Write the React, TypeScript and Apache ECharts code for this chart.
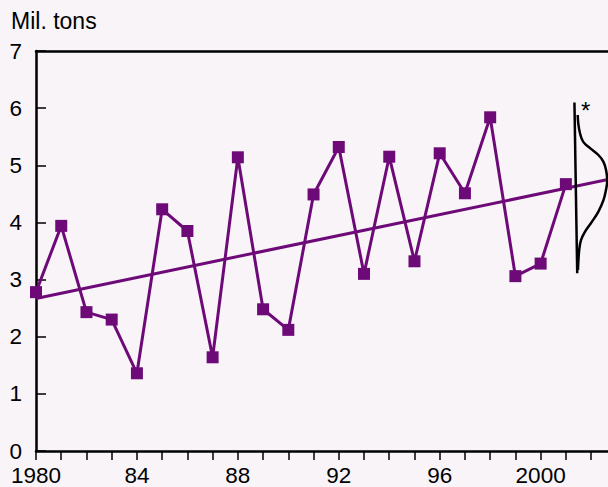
import React, { useEffect, useRef } from "react";
import * as echarts from "echarts";

const years = [1980, 1981, 1982, 1983, 1984, 1985, 1986, 1987, 1988, 1989, 1990, 1991, 1992, 1993, 1994, 1995, 1996, 1997, 1998, 1999, 2000, 2001];
const values = [2.78, 3.94, 2.43, 2.30, 1.36, 4.23, 3.85, 1.64, 5.14, 2.48, 2.12, 4.49, 5.32, 3.10, 5.15, 3.32, 5.21, 4.51, 5.84, 3.06, 3.28, 4.67];
const trendYears = [1980, 2002.67];
const trendValues = [2.67, 4.75];
const distAxisX = [2001.34, 2001.45];
const distAxisY = [6.10, 3.11];
const curveX = [2001.47, 2001.49, 2001.56, 2001.69, 2001.96, 2002.29, 2002.49, 2002.59, 2002.64, 2002.59, 2002.49, 2002.29, 2002.03, 2001.76, 2001.60, 2001.53, 2001.49, 2001.48];
const curveY = [5.88, 5.74, 5.56, 5.41, 5.30, 5.18, 5.06, 4.92, 4.74, 4.57, 4.39, 4.19, 4.01, 3.84, 3.69, 3.52, 3.28, 3.17];
const yTicks = [0, 1, 2, 3, 4, 5, 6, 7];

const PURPLE = "#6E0A78";
const FONT = "Liberation Sans, Arial, sans-serif";

export default function App() {
  const ref = useRef<HTMLDivElement>(null);
  useEffect(() => {
    if (!ref.current) return;
    const chart = echarts.init(ref.current, null, { renderer: "svg" });
    chart.setOption({
      animation: false,
      backgroundColor: "#F8F4F8",
      grid: { left: 36, right: 0, top: 51, bottom: 36 },
      graphic: [
        { type: "text", left: 11, top: 9, style: { text: "Mil. tons", fontSize: 23, fontFamily: FONT, fill: "#000" } },
        { type: "text", left: 581, top: 98, style: { text: "*", fontSize: 24, fontFamily: FONT, fill: "#000" } },
      ],
      xAxis: [
        {
          type: "value",
          min: 1980,
          max: 2002.67,
          interval: 1,
          axisLine: { show: true, lineStyle: { color: "#000", width: 2.5 } },
          axisTick: { show: true, inside: false, length: 9, lineStyle: { color: "#000", width: 1.5 } },
          splitLine: { show: false },
          axisLabel: {
            showMaxLabel: false,
            margin: 13,
            fontSize: 22.5,
            fontFamily: FONT,
            color: "#000",
            formatter: (v: number) => {
              if (v % 4 !== 0) return "";
              if (v === 1980 || v === 2000) return String(v);
              return String(v).slice(2);
            },
          },
        },
        {
          type: "value",
          position: "top",
          min: 1980,
          max: 2002.67,
          axisLine: { show: true, lineStyle: { color: "#000", width: 2.5 } },
          axisTick: { show: false },
          axisLabel: { show: false },
          splitLine: { show: false },
        },
      ],
      yAxis: {
        type: "value",
        min: yTicks[0],
        max: yTicks[yTicks.length - 1],
        interval: 1,
        axisLine: { show: true, lineStyle: { color: "#000", width: 2.5 } },
        axisTick: { show: true, inside: true, length: 10, lineStyle: { color: "#000", width: 1.5 } },
        splitLine: { show: false },
        axisLabel: { margin: 14, fontSize: 22.5, fontFamily: FONT, color: "#000" },
      },
      series: [
        {
          type: "line",
          data: trendYears.map((y, i) => [y, trendValues[i]]),
          symbol: "none",
          lineStyle: { color: PURPLE, width: 3 },
          z: 2,
        },
        {
          type: "line",
          data: years.map((y, i) => [y, values[i]]),
          symbol: "rect",
          symbolSize: 12,
          itemStyle: { color: PURPLE },
          lineStyle: { color: PURPLE, width: 3 },
          clip: false,
          z: 3,
        },
        {
          type: "line",
          data: distAxisX.map((x, i) => [x, distAxisY[i]]),
          symbol: "none",
          lineStyle: { color: "#000", width: 2.5 },
          z: 4,
        },
        {
          type: "line",
          data: curveX.map((x, i) => [x, curveY[i]]),
          symbol: "none",
          smooth: 0.4,
          clip: false,
          lineStyle: { color: "#000", width: 2.5 },
          z: 4,
        },
      ],
    });
    return () => chart.dispose();
  }, []);
  return <div ref={ref} style={{ position: "fixed", left: 0, top: 0, width: 608, height: 487 }} />;
}
